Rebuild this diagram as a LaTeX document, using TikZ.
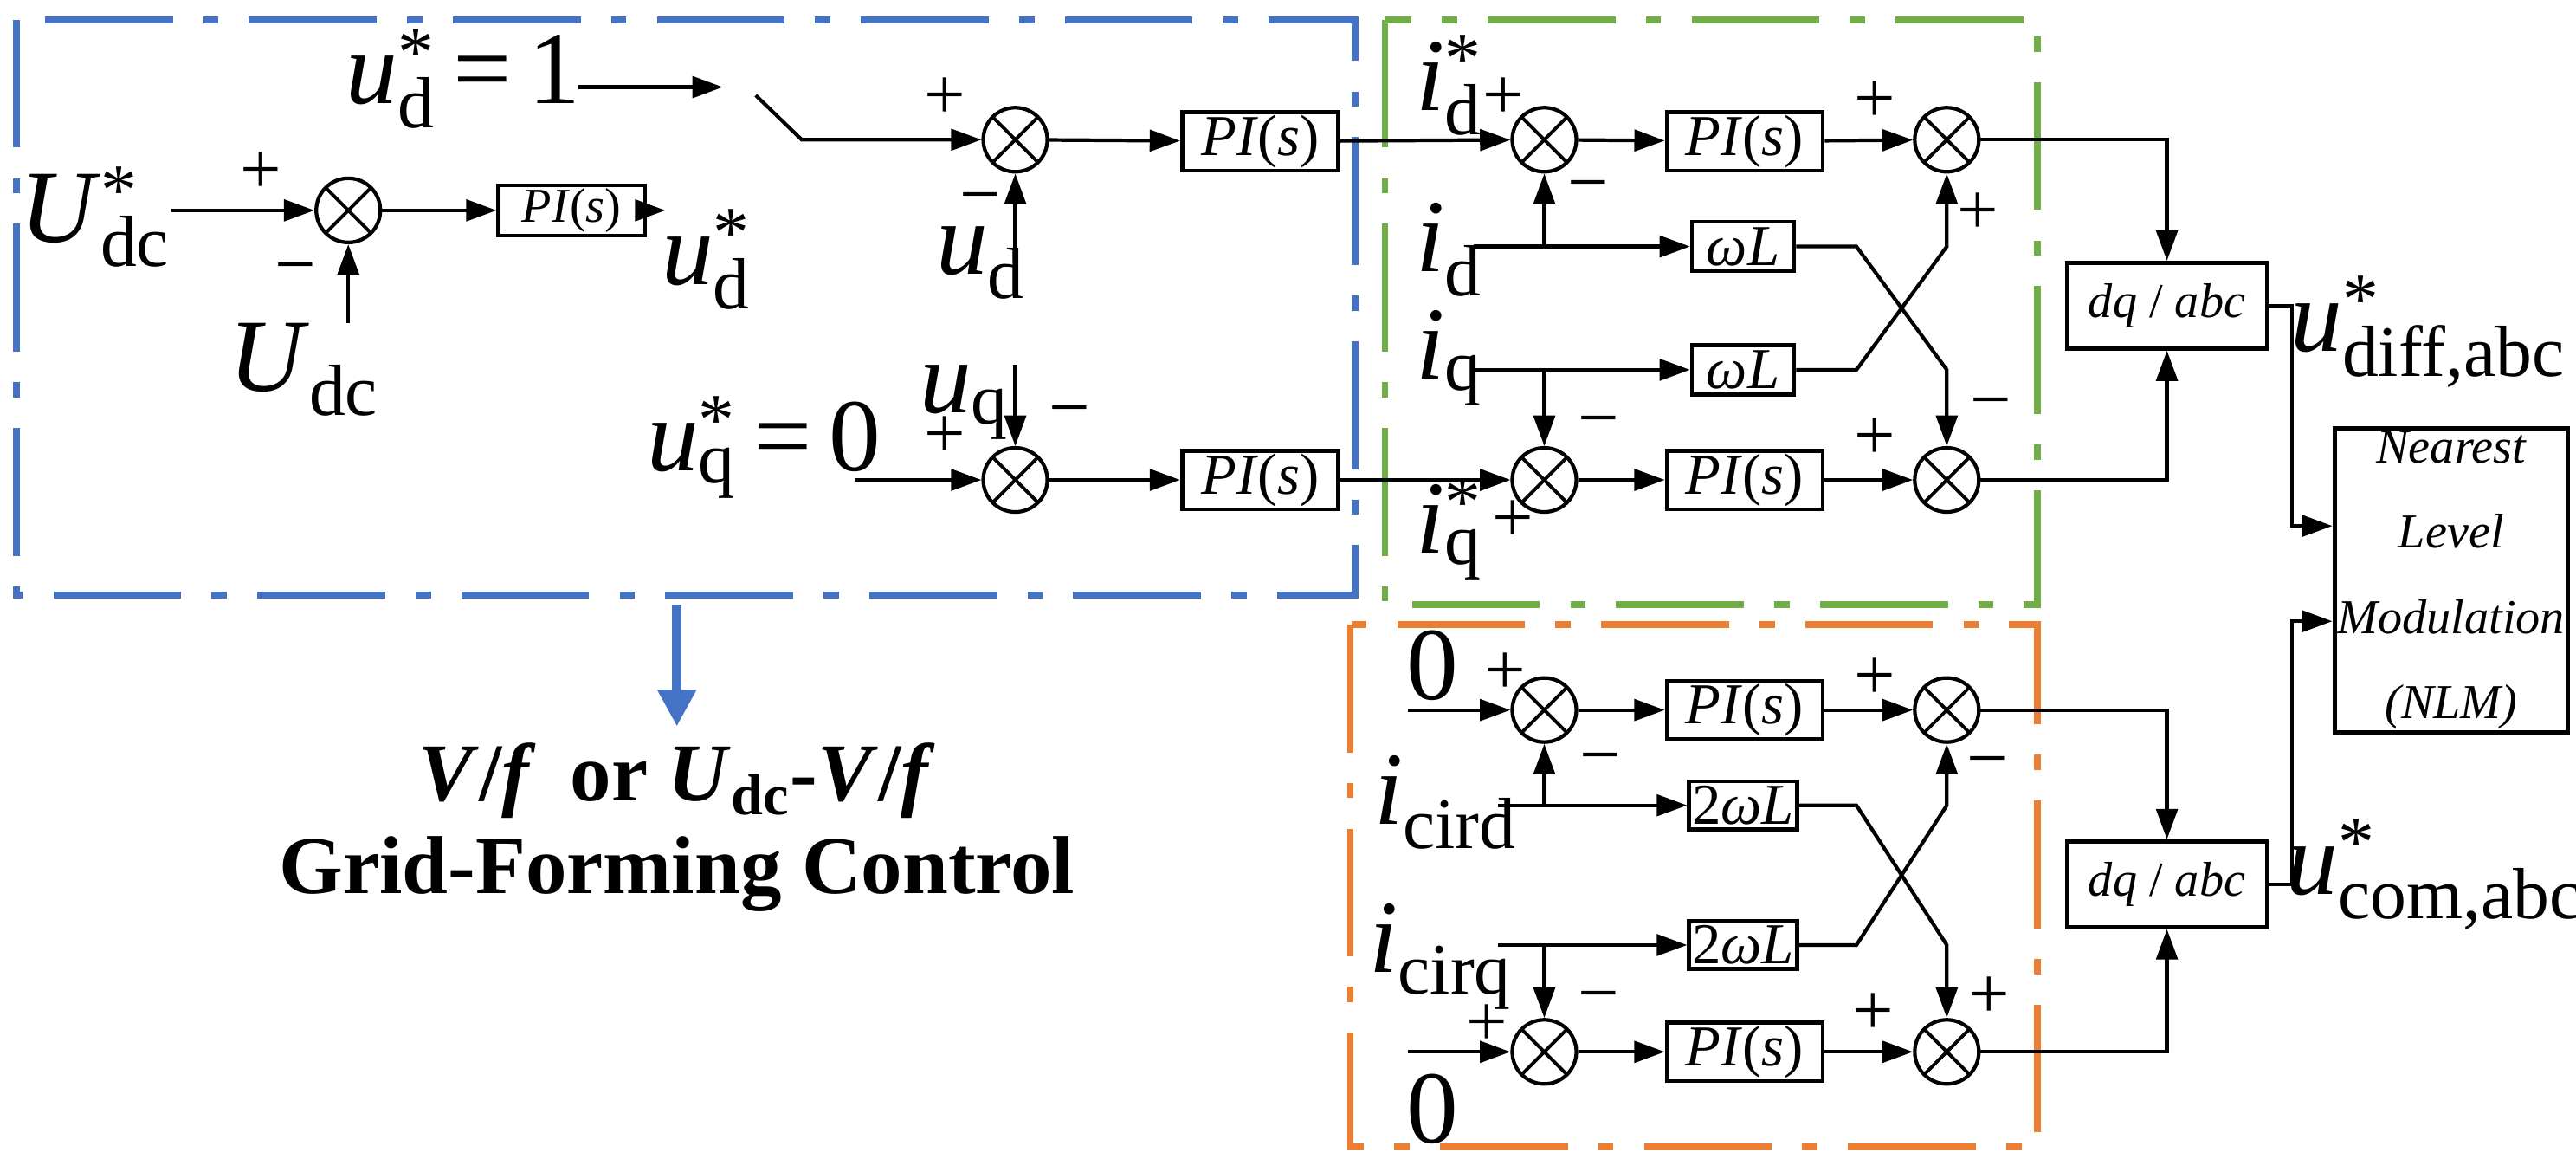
\documentclass[tikz,border=0pt]{standalone}
\usepackage{fontspec}
\setmainfont{Liberation Serif}
\usetikzlibrary{arrows.meta}
\definecolor{gfmblue}{HTML}{4472C4}
\definecolor{gfmgreen}{HTML}{70AD47}
\definecolor{gfmorange}{HTML}{ED7D31}
\newcommand\ssym[3]{\textit{#1}\rlap{\textsuperscript{#2}}\textsubscript{#3}}
\tikzset{
  sum/.style={draw,circle,line width=1.2pt,minimum size=0.74cm,inner sep=0pt,
    path picture={\draw[line width=1.1pt] (path picture bounding box.north west) -- (path picture bounding box.south east)
      (path picture bounding box.north east) -- (path picture bounding box.south west);}},
  blk/.style={draw,line width=1.3pt,minimum width=1.8cm,minimum height=0.6cm,inner sep=1pt,font=\fontsize{19}{19}\selectfont},
  lbl/.style={font=\fontsize{34}{34}\selectfont,inner sep=0pt},
  sgn/.style={font=\fontsize{24}{24}\selectfont,inner sep=0pt},
  frame/.style={line width=2.2pt,dash pattern=on 42pt off 10pt on 5pt off 10pt},
  sig/.style={line width=1.2pt,-{Triangle[length=10pt,width=7pt]}},
}
\begin{document}
\begin{tikzpicture}[x=0.01897cm,y=-0.01897cm]
    \useasboundingbox (0,0) rectangle (1568,713);
    %frames
    \draw[frame,gfmblue] (10,12) rectangle (825,362);
    \draw[frame,gfmgreen] (843,12) rectangle (1240,368);
    \draw[frame,gfmorange] (822,380) rectangle (1240,698);
    \coordinate (t1) at (412,368);
    \coordinate (t2) at (412,442);
    \draw[gfmblue,line width=3pt,-{Triangle[length=12pt,width=12pt]}] (t1) -- (t2);
    \node[font=\fontsize{27}{27}\selectfont\bfseries] (tt1) at (412,475) {\textit{V}/\textit{f}\, or \textit{U}\textsubscript{dc}-\textit{V}/\textit{f}};
    \node[font=\fontsize{27}{27}\selectfont\bfseries] (tt2) at (412,532) {Grid-Forming Control};

    %dc voltage loop
    \node[sum] (s1) at (212,128) {};
    \node[blk,minimum width=1.69cm,minimum height=0.51cm,font=\fontsize{16}{16}\selectfont] (pi1) at (348,128) {\textit{PI}(\textit{s})};
    \node[lbl] (Udcs) at (58,132) {\ssym{U}{*}{dc}};
    \node[lbl] (Udc) at (185,225) {\ssym{U}{}{dc}};
    \node[lbl] (uds) at (430,158) {\ssym{u}{*}{d}};
    \coordinate (e1) at (405,128);
    \draw[sig] (Udcs.east |- s1) -- (s1);
    \draw[sig] (Udc.north -| s1) -- (s1);
    \draw[sig] (s1) -- (pi1);
    \draw[sig] (pi1) -- (e1);
    \node[sgn] at (159,105) {+};
    \node[sgn] at (180,168) {−};

    %d and q voltage loops
    \node[lbl] (ud1) at (282,48) {\ssym{u}{*}{d}\,=\,1};
    \coordinate (a1) at (352,53);
    \coordinate (a2) at (440,53);
    \draw[sig] (a1) -- (a2);
    \coordinate (sw1) at (460,58);
    \coordinate (sw2) at (488,85);
    \node[sum] (s2) at (618,85) {};
    \node[blk] (pi2) at (767,86) {\textit{PI}(\textit{s})};
    \draw[sig] (sw1) -- (sw2) -- (s2);
    \draw[sig] (s2) -- (pi2);
    \node[lbl] (ud) at (597,160) {\ssym{u}{}{d}};
    \coordinate (cud) at (618,152);
    \draw[sig] (cud) -- (s2);
    \node[sgn] at (575,60) {+};
    \node[sgn] at (597,125) {−};
    \node[lbl] (uq0) at (465,272) {\ssym{u}{*}{q}\,=\,0};
    \coordinate (cuq0) at (520,292);
    \node[sum] (s3) at (618,292) {};
    \node[blk] (pi3) at (767,292) {\textit{PI}(\textit{s})};
    \draw[sig] (cuq0) -- (s3);
    \draw[sig] (s3) -- (pi3);
    \node[lbl] (uq) at (587,245) {\ssym{u}{}{q}};
    \coordinate (cuq) at (618,222);
    \draw[sig] (cuq) -- (s3);
    \node[sgn] at (575,266) {+};
    \node[sgn] at (651,255) {−};

    %differential current loop
    \node[sum] (s4) at (940,85) {};
    \node[blk] (pi4) at (1062,86) {\textit{PI}(\textit{s})};
    \node[sum] (s5) at (1185,85) {};
    \node[blk,minimum width=1.18cm,minimum height=0.57cm] (w1) at (1061,150) {\textit{ωL}};
    \node[blk,minimum width=1.18cm,minimum height=0.57cm] (w2) at (1061,225) {\textit{ωL}};
    \node[sum] (s6) at (940,292) {};
    \node[blk] (pi5) at (1062,292) {\textit{PI}(\textit{s})};
    \node[sum] (s7) at (1185,292) {};
    \node[blk,minimum width=2.31cm,minimum height=0.99cm,font=\fontsize{16}{16}\selectfont] (dq1) at (1319,186) {\textit{dq} / \textit{abc}};
    \node[lbl] (ids) at (882,52) {\ssym{i}{*}{d}};
    \node[lbl] (id) at (882,152) {\ssym{i}{}{d}};
    \node[lbl] (iq) at (882,218) {\ssym{i}{}{q}};
    \node[lbl] (iqs) at (882,322) {\ssym{i}{*}{q}};
    \coordinate (cid) at (897,150);
    \coordinate (ciq) at (897,225);
    \draw[sig] (pi2) -- (s4);
    \draw[sig] (pi3) -- (s6);
    \draw[sig] (s4) -- (pi4);
    \draw[sig] (pi4) -- (s5);
    \draw[sig] (cid) -- (w1);
    \draw[sig] (ciq) -- (w2);
    \draw[sig] (s4 |- w1) -- (s4);
    \draw[sig] (s6 |- w2) -- (s6);
    \draw[sig] (s6) -- (pi5);
    \draw[sig] (pi5) -- (s7);
    \draw[sig] (w1.east) -- (1130,150) -- (1185,225) -- (s7);
    \draw[sig] (w2.east) -- (1130,225) -- (1185,150) -- (s5);
    \draw[sig] (s5) -| (dq1);
    \draw[sig] (s7) -| (dq1);
    \node[sgn] at (915,60) {+};
    \node[sgn] at (967,118) {−};
    \node[sgn] at (1141,62) {+};
    \node[sgn] at (1204,130) {+};
    \node[sgn] at (973,261) {−};
    \node[sgn] at (1141,267) {+};
    \node[sgn] at (1212,250) {−};
    \node[sgn] at (921,317) {+};

    %circulating current loop
    \node[sum] (s8) at (940,432) {};
    \node[blk] (pi6) at (1062,432) {\textit{PI}(\textit{s})};
    \node[sum] (s9) at (1185,432) {};
    \node[blk,minimum width=1.18cm,minimum height=0.55cm] (w3) at (1061,490) {2\textit{ωL}};
    \node[blk,minimum width=1.18cm,minimum height=0.55cm] (w4) at (1061,575) {2\textit{ωL}};
    \node[sum] (s10) at (940,640) {};
    \node[blk] (pi7) at (1062,640) {\textit{PI}(\textit{s})};
    \node[sum] (s11) at (1185,640) {};
    \node[blk,minimum width=2.31cm,minimum height=0.99cm,font=\fontsize{16}{16}\selectfont] (dq2) at (1319,538) {\textit{dq} / \textit{abc}};
    \node[lbl] (z1) at (872,405) {0};
    \node[lbl] (z2) at (872,675) {0};
    \node[lbl] (icd) at (880,488) {\ssym{i}{}{cird}};
    \node[lbl] (icq) at (877,582) {\ssym{i}{}{cirq}};
    \coordinate (cz1) at (857,432);
    \coordinate (cz2) at (857,640);
    \coordinate (cic1) at (912,490);
    \coordinate (cic2) at (912,575);
    \draw[sig] (cz1) -- (s8);
    \draw[sig] (cz2) -- (s10);
    \draw[sig] (s8) -- (pi6);
    \draw[sig] (pi6) -- (s9);
    \draw[sig] (s10) -- (pi7);
    \draw[sig] (pi7) -- (s11);
    \draw[sig] (cic1) -- (w3);
    \draw[sig] (cic2) -- (w4);
    \draw[sig] (s8 |- w3) -- (s8);
    \draw[sig] (s10 |- w4) -- (s10);
    \draw[sig] (w3.east) -- (1130,490) -- (1185,575) -- (s11);
    \draw[sig] (w4.east) -- (1130,575) -- (1185,490) -- (s9);
    \draw[sig] (s9) -| (dq2);
    \draw[sig] (s11) -| (dq2);
    \node[sgn] at (916,410) {+};
    \node[sgn] at (974,466) {−};
    \node[sgn] at (1141,413) {+};
    \node[sgn] at (1210,468) {−};
    \node[sgn] at (973,611) {−};
    \node[sgn] at (905,624) {+};
    \node[sgn] at (1140,617) {+};
    \node[sgn] at (1211,607) {+};

    %modulation
    \node[draw,line width=1.4pt,minimum width=2.56cm,minimum height=2.98cm,align=center,inner sep=1pt,
      font=\fontsize{16}{28}\selectfont\itshape] (nlm) at (1492,353) {Nearest\\Level\\Modulation\\(NLM)};
    \node[lbl] (udiff) at (1478,202) {\ssym{u}{*}{diff,abc}};
    \node[lbl] (ucom) at (1482,532) {\ssym{u}{*}{com,abc}};
    \draw[sig] (dq1.east) -- (1395,186) |- (nlm.west |- 0,320);
    \draw[sig] (dq2.east) -- (1395,538) |- (nlm.west |- 0,378);
\end{tikzpicture}
\end{document}
